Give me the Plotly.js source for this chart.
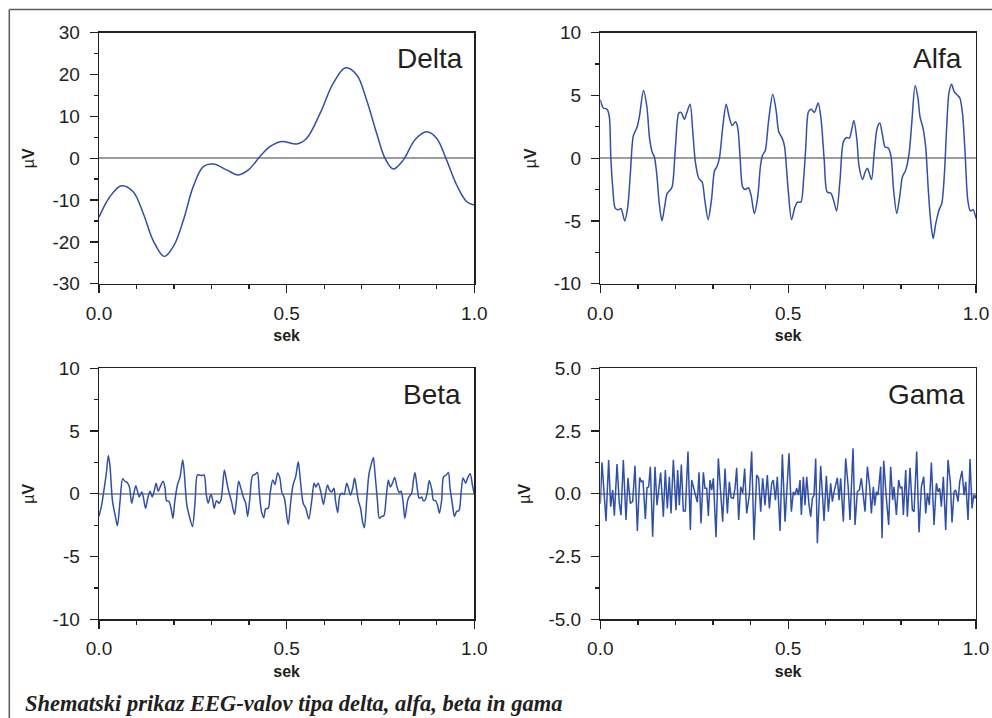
<!DOCTYPE html>
<html>
<head>
<meta charset="utf-8">
<script src="https://cdn.plot.ly/plotly-3.0.1.min.js"></script>
<style>html,body{margin:0;padding:0;background:#fff;}#chart{width:992px;height:718px;}</style>
</head>
<body>
<div id="chart"></div>
<script>
// ---------------- data ----------------
const panelNames = ["Delta", "Alfa", "Beta", "Gama"];

const delta_t = [0, 0.029, 0.060, 0.091, 0.118, 0.145, 0.174, 0.200, 0.225, 0.251, 0.278, 0.305, 0.340, 0.371, 0.398, 0.429, 0.456, 0.487, 0.527, 0.553, 0.589, 0.624, 0.657, 0.687, 0.713, 0.740, 0.762, 0.784, 0.811, 0.842, 0.873, 0.900, 0.926, 0.953, 0.980, 1.0];
const delta_v = [-14.1, -9.2, -6.6, -8.0, -13.2, -19.8, -23.5, -20.8, -14.8, -6.8, -2.0, -1.4, -2.8, -4.0, -2.8, 0.4, 2.8, 4.0, 3.4, 4.7, 10.7, 17.9, 21.6, 19.9, 13.9, 5.9, 0.0, -2.6, -0.4, 4.4, 6.3, 4.7, -0.4, -6.4, -10.4, -11.2];

const alfa_t = [0, 0.008, 0.018, 0.024, 0.028, 0.033, 0.040, 0.049, 0.055, 0.065,
  0.073, 0.080, 0.088, 0.097, 0.104, 0.115, 0.124, 0.131, 0.138, 0.144,
  0.150, 0.157, 0.164, 0.171, 0.178, 0.184, 0.191, 0.200, 0.209, 0.215,
  0.224, 0.230, 0.239, 0.246, 0.253, 0.262, 0.271, 0.278, 0.287, 0.296,
  0.304, 0.310, 0.317, 0.326, 0.335, 0.343, 0.351, 0.360, 0.366, 0.372,
  0.379, 0.386, 0.394, 0.401, 0.410, 0.419, 0.426, 0.432, 0.439, 0.448,
  0.459, 0.468, 0.475, 0.484, 0.490, 0.500, 0.509, 0.518, 0.525, 0.534,
  0.541, 0.547, 0.554, 0.561, 0.570, 0.580, 0.588, 0.596, 0.604, 0.614,
  0.623, 0.629, 0.638, 0.647, 0.656, 0.663, 0.669, 0.675, 0.683, 0.689,
  0.698, 0.705, 0.711, 0.716, 0.722, 0.729, 0.737, 0.744, 0.751, 0.758,
  0.767, 0.774, 0.780, 0.789, 0.798, 0.804, 0.813, 0.822, 0.829, 0.838,
  0.845, 0.851, 0.859, 0.866, 0.873, 0.879, 0.886, 0.893, 0.902, 0.909,
  0.916, 0.922, 0.928, 0.935, 0.942, 0.951, 0.957, 0.964, 0.971, 0.978,
  0.985, 0.992, 1.0];
const alfa_v = [4.66, 4.0, 3.9, 3.3, 0.1, -2.3, -4.0, -4.1, -4.0, -5.0,
  -3.9, -1.2, 1.8, 2.4, 3.3, 5.4, 4.1, 1.6, 0.5, 0.1,
  -1.2, -3.6, -5.0, -3.9, -2.8, -2.6, -2.3, 0.9, 3.6, 3.65,
  3.1, 3.6, 4.3, 2.2, -0.3, -1.6, -1.9, -3.3, -4.9, -3.3,
  -1.0, -0.7, 0.0, 2.5, 4.3, 3.3, 2.6, 2.9, 2.4, 0.1,
  -2.3, -2.5, -2.35, -2.9, -4.4, -3.1, -0.7, 0.25, 0.6, 3.0,
  5.1, 3.8, 2.1, 1.6, 1.0, -2.5, -4.9, -3.9, -3.5, -3.5,
  -1.75, 0.9, 3.7, 3.9, 3.65, 4.4, 3.0, -0.15, -2.7, -2.8,
  -3.6, -4.2, -1.75, 1.3, 1.65, 1.6, 2.25, 3.0, 1.45, -0.7,
  -1.7, -1.1, -0.8, -1.2, -1.7, 0.4, 2.4, 2.8, 1.85, 0.9,
  0.8, 0.1, -2.3, -4.4, -2.8, -1.5, -0.95, 0.4, 2.8, 5.8,
  4.9, 3.3, 2.4, 0.9, -2.5, -4.9, -6.4, -5.2, -4.1, -3.6,
  -1.2, 2.5, 5.2, 5.9, 5.3, 5.0, 4.8, 3.6, 0.4, -3.3,
  -4.2, -4.1, -4.8];

const beta_t = [0, 0.007, 0.014, 0.020, 0.025, 0.029, 0.036, 0.043, 0.049, 0.056,
  0.063, 0.069, 0.075, 0.081, 0.087, 0.092, 0.098, 0.103, 0.107, 0.114,
  0.118, 0.124, 0.130, 0.136, 0.142, 0.147, 0.152, 0.158, 0.163, 0.171,
  0.176, 0.180, 0.186, 0.192, 0.197, 0.202, 0.209, 0.216, 0.223, 0.227,
  0.234, 0.240, 0.249, 0.256, 0.262, 0.267, 0.274, 0.280, 0.286, 0.291,
  0.298, 0.302, 0.307, 0.313, 0.320, 0.325, 0.329, 0.334, 0.340, 0.346,
  0.353, 0.361, 0.366, 0.372, 0.378, 0.385, 0.391, 0.396, 0.402, 0.409,
  0.416, 0.422, 0.427, 0.433, 0.439, 0.444, 0.451, 0.456, 0.463, 0.469,
  0.476, 0.482, 0.487, 0.494,
  0.504, 0.511, 0.517, 0.524, 0.531, 0.536, 0.544, 0.551, 0.559, 0.567,
  0.573, 0.578, 0.584, 0.591, 0.598, 0.602, 0.609, 0.614, 0.620, 0.626,
  0.630, 0.636, 0.642, 0.648, 0.653, 0.660, 0.664, 0.670, 0.676, 0.681,
  0.686, 0.691, 0.697, 0.702, 0.707, 0.713, 0.719, 0.725, 0.731, 0.735,
  0.742, 0.747, 0.753, 0.759, 0.765, 0.771, 0.776, 0.782, 0.788, 0.794,
  0.800, 0.805, 0.810, 0.815, 0.822, 0.826, 0.833, 0.838, 0.842, 0.848,
  0.853, 0.860, 0.864, 0.869, 0.875, 0.880, 0.887, 0.891, 0.897, 0.902,
  0.907, 0.913, 0.918, 0.925, 0.931, 0.935, 0.942, 0.947, 0.953, 0.959,
  0.965, 0.970, 0.977, 0.982, 0.989, 0.995, 1.0];
const beta_v = [-1.8, -0.9, 0.45, 1.75, 3.05, 2.3, -0.6, -1.7, -2.55, -0.6,
  1.2, 1.0, 0.9, 0.55, -0.75, -0.1, 0.65, 0.15, -0.25, 0.15,
  -0.25, -1.15, -0.35, 0.2, -0.25, 0.2, 0.85, 0.2, 0.55, 1.0,
  0.45, -0.55, -0.6, -1.15, -1.95, -0.6, 0.7, 1.35, 2.7, 1.75,
  -0.9, -1.7, -2.6, -0.6, 1.5, 1.5, 1.45, 1.5, -0.1, -0.75,
  -0.05, -0.35, -1.15, -0.55, -0.75, -0.5, 0.45, 1.9, 1.0, 0.15,
  -0.6, -1.65, -0.6, 1.0, 0.45, -0.3, -0.75, -1.8, -0.35, 1.45,
  1.55, 1.7, 0.15, -1.4, -1.9, -1.2, -1.15, 0.05, 1.1, 0.75,
  1.65, 1.25, 0.15, -0.35,
  -2.45, -0.6, 0.7, 1.35, 2.55, 1.25, -0.75, -1.15, -2.0, -0.5,
  0.85, 0.55, 0.85, 0.15, -0.85, -0.25, 0.7, 0.3, 0.15, 0.45,
  -0.5, -1.5, -0.1, 0.05, -0.05, 0.85, 0.55, -0.1, 0.45, 1.25,
  0.45, -0.55, -1.15, -2.2, -2.7, -0.6, 1.5, 2.3, 2.9, 1.75,
  -0.6, -1.95, -1.8, -1.75, -0.35, 1.1, 0.55, 0.85, 1.3, 0.55,
  0.1, 0.2, -0.6, -1.95, -0.6, -0.25, 0.05, 1.1, 1.7, 0.45,
  -0.35, -0.25, -0.55, -0.5, 0.15, 1.05, 0.3, -0.5, -0.55, -0.9,
  -1.55, -0.5, 1.35, 1.5, 1.7, 0.55, -0.9, -1.8, -1.4, -1.35,
  0.15, 1.25, 0.85, 1.25, 1.6, 0.7, -0.05];

const gama_t = [0.000, 0.0045, 0.0152, 0.0222, 0.0276, 0.0329, 0.0374, 0.0445, 0.0506, 0.0551,
  0.0613, 0.0684, 0.0737, 0.0799, 0.0861, 0.0924, 0.0986, 0.1048, 0.1092, 0.1137,
  0.1199, 0.1243, 0.1287, 0.1332, 0.1394, 0.1456, 0.1509, 0.1554, 0.1607, 0.1678,
  0.1731, 0.1784, 0.1838, 0.1882, 0.1944, 0.2015, 0.2059, 0.2104, 0.2157, 0.2210,
  0.2263, 0.2334, 0.2397,
  0.2432, 0.2494, 0.2583, 0.2627, 0.2681, 0.2743, 0.2787,
  0.2832, 0.2876, 0.2920, 0.2965, 0.3009, 0.3080, 0.3142, 0.3204, 0.3257, 0.3320,
  0.3382, 0.3435, 0.3480, 0.3541, 0.3586, 0.3630, 0.3683, 0.3737, 0.3791, 0.3843,
  0.3896, 0.3967, 0.4029, 0.4091, 0.4162, 0.4215, 0.4269, 0.4322, 0.4384, 0.4446,
  0.4500, 0.4562, 0.4606, 0.4660, 0.4712, 0.4783, 0.4846, 0.4917,
  0.5023, 0.5085,
  0.5139, 0.5183, 0.5227, 0.5272, 0.5316, 0.5351, 0.5405, 0.5449, 0.5494, 0.5556,
  0.5600, 0.5645, 0.5689, 0.5733, 0.5777, 0.5866, 0.5911, 0.5955, 0.6017, 0.6070,
  0.6132, 0.6177, 0.6221, 0.6310, 0.6354, 0.6398, 0.6469, 0.6531, 0.6594, 0.6647,
  0.6727, 0.6780, 0.6842, 0.6895, 0.6949, 0.7002, 0.7046, 0.7109, 0.7171, 0.7215,
  0.7268, 0.7304, 0.7348, 0.7392, 0.7463, 0.7499,
  0.7543, 0.7614, 0.7676, 0.7729,
  0.7782, 0.7818, 0.7853, 0.7880, 0.7942, 0.7987, 0.8031, 0.8067, 0.8129, 0.8173,
  0.8244, 0.8306, 0.8351, 0.8422, 0.8484, 0.8546, 0.8608, 0.8662, 0.8706, 0.8759,
  0.8812, 0.8883, 0.8945, 0.8990, 0.9034, 0.9078, 0.9131, 0.9194, 0.9256, 0.9318,
  0.9362, 0.9416, 0.9460, 0.9522, 0.9567, 0.9628, 0.9682, 0.9726, 0.9788, 0.9841,
  0.9894, 0.9939, 0.9983, 1.0];
const gama_v = [-0.4, 1.25, -1.09, 1.35, -0.51, 0.15, -0.87, 1.19, -0.38, -0.85,
  1.35, -1.04, 0.64, -0.38, -0.31, 1.12, -1.48, 0.65, 0.48, 0.51,
  -1.0, 0.24, 0.28, 1.08, -1.71, 1.08, -0.45, 0.08, 0.85, -0.91,
  0.95, -0.58, 0.68, -0.78, 1.35, -0.65, 0.95, -0.45, 1.17, -0.69,
  -0.69, 1.68, -1.44,
  0.55, 0.15, -0.34, 0.86, -1.18, 0.86, 0.22,
  0.22, -0.88, 0.55, 0.15, 0.62, -1.73, 1.41, 0.08, -1.11, 1.01,
  -0.78, 0.48, -0.15, -0.18, 0.22, 1.04, -1.04, 0.28, 0.02, 1.01,
  -0.78, -0.05, 1.68, -1.84, 0.75, 0.62, -0.71, 0.62, -0.45, 0.75,
  -0.58, 0.42, 0.55, -0.25, 0.68, -1.48, 1.57, -1.11,
  1.61, -0.71,
  0.08, -0.05, 0.22, -0.05, 0.55, -0.84, 0.68, -0.45, 0.68, -0.45,
  -0.91, -0.18, -0.05, 1.41, -1.97, 1.12, -0.05, -1.08, 0.72, -0.71,
  0.42, -0.31, 0.08, 0.64, -0.25, 0.62, -1.11, 1.41, 0.35, -1.04,
  1.81, -1.24, 0.08, 0.15, 0.62, -0.18, -0.71, 1.08, 0.28, -0.78,
  0.28, -0.47, 0.08, -0.05, 1.08, -1.77,
  1.32, -0.18, -1.24, 1.08,
  -0.25, 0.28, -0.25, -0.84, 0.55, 0.22, 0.28, -0.84, 0.95, -0.91,
  1.04, -0.65, -0.71, 1.68, -1.54, 0.28, 0.68, -0.78, 0.02, -0.45,
  1.25, -1.24, 0.42, 0.08, 0.22, -0.51, 0.68, -1.44, 1.35, 0.42,
  -1.14, 0.08, 0.15, -0.31, 0.48, 0.91, -0.05, 0.48, -1.04, 1.39,
  -0.58, -0.05, -0.18, -0.05];

// tick values / labels
const xTickVals = [0, 0.5, 1.0];
const xTickText = ["0.0", "0.5", "1.0"];
const deltaTickVals = [-30, -20, -10, 0, 10, 20, 30];
const deltaTickText = ["-30", "-20", "-10", "0", "10", "20", "30"];
const tenTickVals = [-10, -5, 0, 5, 10];
const tenTickText = ["-10", "-5", "0", "5", "10"];
const gamaTickVals = [-5, -2.5, 0, 2.5, 5];
const gamaTickText = ["-5.0", "-2.5", "0.0", "2.5", "5.0"];
const xTitle = "sek";
const yTitle = "\u00b5<b>V</b>";
const caption = "Shematski prikaz EEG-valov tipa delta, alfa, beta in gama";

// ---------------- layout geometry (pixels) ----------------
const W = 992, H = 718;
const colL = [99, 474.3], colR = [600.3, 976];
const rowT = [32.7, 283.7], rowB = [368.3, 619.3];
const fx = p => p / W;
const fy = p => 1 - p / H;

const ink = "#231f20";
const lineBlue = "#3050a8";
const tickFont = {family: "Arial, 'Liberation Sans', sans-serif", size: 19, color: ink};

function xAxis(col, anchor) {
  return {
    domain: [fx(col[0]), fx(col[1])], anchor: anchor, range: [0, 1],
    showline: true, mirror: true, linecolor: ink, linewidth: 1.3,
    ticks: "outside", ticklen: 8, tickwidth: 1.3, tickcolor: ink,
    tickvals: xTickVals, ticktext: xTickText, tickfont: tickFont, ticklabelstandoff: 4,
    minor: {dtick: 0.1, tick0: 0, ticks: "outside", ticklen: 4, tickwidth: 1.3, tickcolor: ink, showgrid: false},
    showgrid: false, zeroline: false, fixedrange: true,
    title: {text: "<b>" + xTitle + "</b>", font: {family: "Arial, 'Liberation Sans', sans-serif", size: 16, color: ink}, standoff: 7}
  };
}
function yAxis(row, anchor, range, tv, tt, minorStep) {
  return {
    domain: [fy(row[1]), fy(row[0])], anchor: anchor, range: range,
    showline: true, mirror: true, linecolor: ink, linewidth: 1.3,
    ticks: "outside", ticklen: 8, tickwidth: 1.3, tickcolor: ink,
    tickvals: tv, ticktext: tt, tickfont: tickFont, ticklabelstandoff: 6,
    minor: {dtick: minorStep, tick0: 0, ticks: "outside", ticklen: 4, tickwidth: 1.3, tickcolor: ink, showgrid: false},
    showgrid: false, zeroline: true, zerolinecolor: "#9d9d9d", zerolinewidth: 1.5, fixedrange: true,
    title: {text: yTitle, font: {family: "Arial, 'Liberation Sans', sans-serif", size: 16, color: ink}, standoff: 13}
  };
}

const traceStyle = {mode: "lines", showlegend: false, hoverinfo: "skip"};
const data = [
  Object.assign({x: delta_t, y: delta_v, xaxis: "x", yaxis: "y", name: panelNames[0], line: {color: lineBlue, width: 1.5, shape: "spline", smoothing: 1}}, traceStyle),
  Object.assign({x: alfa_t, y: alfa_v, xaxis: "x2", yaxis: "y2", name: panelNames[1], line: {color: lineBlue, width: 1.5, shape: "spline", smoothing: 0.8}}, traceStyle),
  Object.assign({x: beta_t, y: beta_v, xaxis: "x3", yaxis: "y3", name: panelNames[2], line: {color: lineBlue, width: 1.5, shape: "spline", smoothing: 0.8}}, traceStyle),
  Object.assign({x: gama_t, y: gama_v, xaxis: "x4", yaxis: "y4", name: panelNames[3], line: {color: lineBlue, width: 1.5}}, traceStyle)
];

const labelFont = {family: "Arial, 'Liberation Sans', sans-serif", size: 28, color: ink};
function panelLabel(text, xr, ycaps) {
  return {text: text, xref: "paper", yref: "paper", x: fx(xr), y: fy(ycaps), xanchor: "right", yanchor: "middle", showarrow: false, font: labelFont};
}

const layout = {
  width: W, height: H,
  margin: {l: 0, r: 0, t: 0, b: 0},
  paper_bgcolor: "#ffffff", plot_bgcolor: "#ffffff",
  showlegend: false,
  xaxis: xAxis(colL, "y"),
  yaxis: yAxis(rowT, "x", [-30, 30], deltaTickVals, deltaTickText, 5),
  xaxis2: xAxis(colR, "y2"),
  yaxis2: yAxis(rowT, "x2", [-10, 10], tenTickVals, tenTickText, 2.5),
  xaxis3: xAxis(colL, "y3"),
  yaxis3: yAxis(rowB, "x3", [-10, 10], tenTickVals, tenTickText, 2.5),
  xaxis4: xAxis(colR, "y4"),
  yaxis4: yAxis(rowB, "x4", [-5, 5], gamaTickVals, gamaTickText, 1.25),
  annotations: [
    panelLabel(panelNames[0], 465, 59),
    panelLabel(panelNames[1], 964, 59),
    panelLabel(panelNames[2], 463, 394),
    panelLabel(panelNames[3], 967, 394),
    {text: caption, xref: "paper", yref: "paper", x: fx(23), y: fy(703), xanchor: "left", yanchor: "middle", showarrow: false,
     font: {family: "'Times New Roman', 'Liberation Serif', serif", size: 22.5, color: ink, weight: "bold", style: "italic"}}
  ],
  shapes: [
    {type: "line", xref: "paper", yref: "paper", x0: fx(9.3), x1: fx(9.3), y0: fy(9.5), y1: 0, line: {color: "#5b5b5b", width: 1.5}},
    {type: "line", xref: "paper", yref: "paper", x0: fx(9.3), x1: 1, y0: fy(9.5), y1: fy(9.5), line: {color: "#5b5b5b", width: 1.5}}
  ]
};

Plotly.newPlot("chart", data, layout, {staticPlot: true, displayModeBar: false});
</script>
</body>
</html>
